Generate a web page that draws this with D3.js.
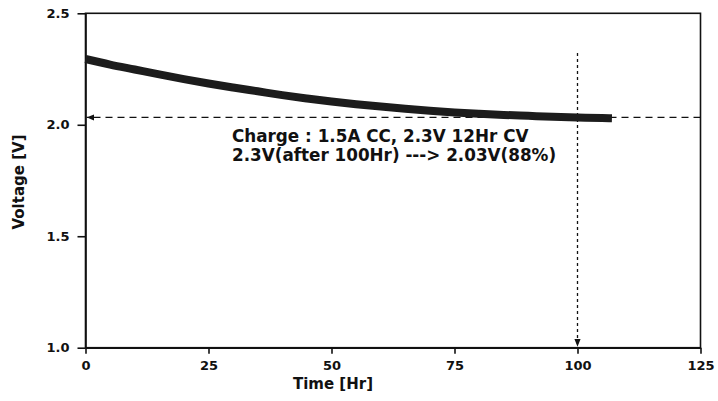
<!DOCTYPE html>
<html><head><meta charset="utf-8">
<script src="https://cdn.jsdelivr.net/npm/d3@7"></script>
<style>
body{margin:0;background:#fff;}
svg{display:block;}
.tick text{font-family:"DejaVu Sans",sans-serif;font-weight:bold;font-size:13px;fill:#111;}
</style></head>
<body>
<svg id="c" width="718" height="401"></svg>
<script>
const timeHr = [0,5,10,15,20,25,30,35,40,45,50,55,60,65,70,75,80,85,90,95,100,105,107];
const voltage = [2.295,2.270,2.248,2.226,2.205,2.185,2.167,2.150,2.133,2.118,2.104,2.092,2.082,2.072,2.063,2.055,2.049,2.044,2.040,2.036,2.033,2.030,2.029];
const xTicks = [0,25,50,75,100,125];
const yTicks = [1.0,1.5,2.0,2.5];
const refVoltage = 2.033;
const refTime = 100;
const noteLines = ["Charge : 1.5A CC, 2.3V 12Hr CV","2.3V(after 100Hr) ---> 2.03V(88%)"];

const svg = d3.select("#c");
const x = d3.scaleLinear().domain([0,125]).range([85.5,700.5]);
const y = d3.scaleLinear().domain([1.0,2.5]).range([347.7,13.3]);
const font = '"DejaVu Sans",sans-serif';

const defs = svg.append("defs");
defs.append("marker").attr("id","arr").attr("viewBox","0 0 10 10").attr("refX",10).attr("refY",5)
  .attr("markerWidth",6).attr("markerHeight",6).attr("orient","auto-start-reverse")
  .append("path").attr("d","M0,1 L10,5 L0,9 z").attr("fill","#111");

// frame
svg.append("rect").attr("x",x(0)).attr("y",y(2.5)).attr("width",x(125)-x(0)).attr("height",y(1.0)-y(2.5))
  .attr("fill","none").attr("stroke","#111").attr("stroke-width",1.6);

const xa = svg.append("g").attr("transform",`translate(0,${y(1.0)})`)
  .call(d3.axisBottom(x).tickValues(xTicks).tickSize(6).tickSizeOuter(0).tickPadding(7).tickFormat(d3.format("d")));
const ya = svg.append("g").attr("transform",`translate(${x(0)},0)`)
  .call(d3.axisLeft(y).tickValues(yTicks).tickSize(8).tickSizeOuter(0).tickPadding(8).tickFormat(d3.format(".1f")));
[xa,ya].forEach(g=>{g.select(".domain").attr("stroke","#111").attr("stroke-width",1.6);
  g.selectAll(".tick line").attr("stroke","#111").attr("stroke-width",1.6);});

// reference lines
svg.append("line").attr("x1",x(125)).attr("x2",x(0)+1).attr("y1",y(refVoltage)).attr("y2",y(refVoltage))
  .attr("stroke","#111").attr("stroke-width",1.3).attr("stroke-dasharray","7,5").attr("marker-end","url(#arr)");
svg.append("line").attr("x1",x(refTime)).attr("x2",x(refTime)).attr("y1",53).attr("y2",y(1.0)-1)
  .attr("stroke","#111").attr("stroke-width",1.3).attr("stroke-dasharray","3,3").attr("marker-end","url(#arr)");

// data curve
svg.append("path").datum(timeHr.map((t,i)=>[t,voltage[i]]))
  .attr("d",d3.line().x(d=>x(d[0])).y(d=>y(d[1])).curve(d3.curveMonotoneX))
  .attr("fill","none").attr("stroke","#1c1c1c").attr("stroke-width",8).attr("stroke-linecap","butt");

// annotation
svg.append("g").selectAll("text").data(noteLines).join("text")
  .attr("x",232).attr("y",(d,i)=>142+i*18.5)
  .attr("font-family",font).attr("font-weight","bold").attr("font-size","16.8px").attr("fill","#111")
  .text(d=>d);

// axis titles
svg.append("text").attr("x",333).attr("y",389).attr("text-anchor","middle")
  .attr("font-family",font).attr("font-weight","bold").attr("font-size","15px").attr("fill","#111").text("Time [Hr]");
svg.append("text").attr("transform",`translate(24,182) rotate(-90)`).attr("text-anchor","middle")
  .attr("font-family",font).attr("font-weight","bold").attr("font-size","15px").attr("fill","#111").text("Voltage [V]");
</script>
</body></html>
